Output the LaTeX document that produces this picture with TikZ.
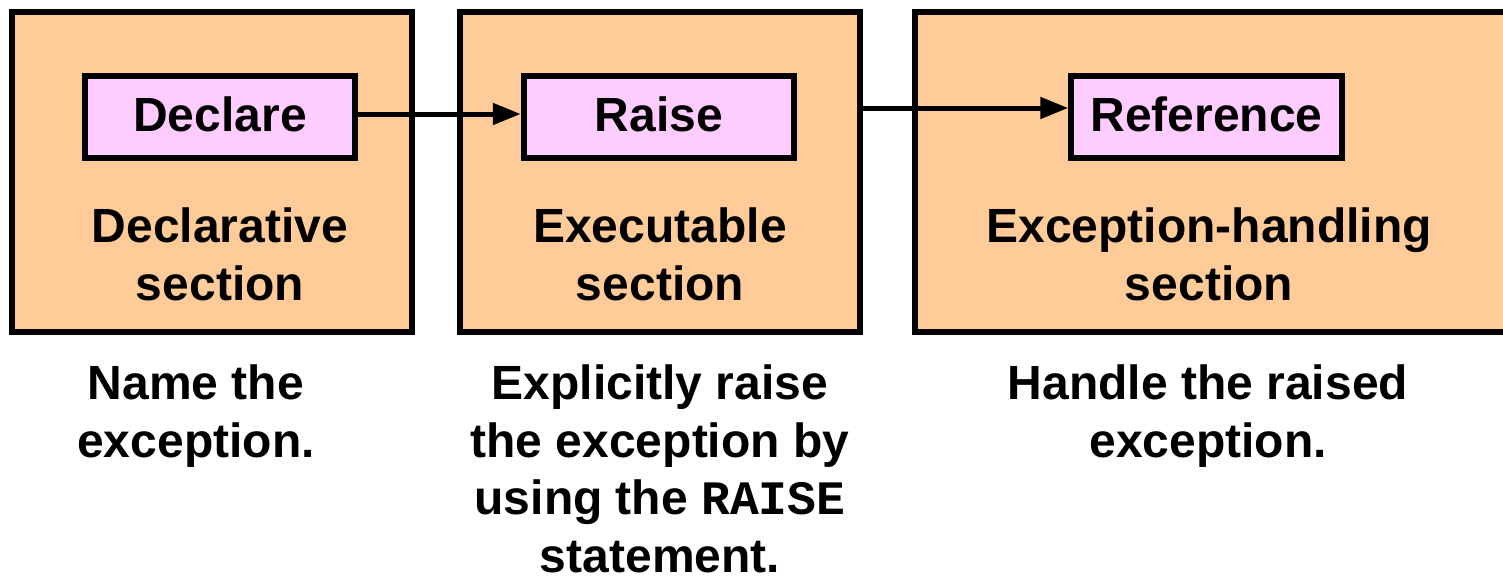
\documentclass[tikz,border=0pt]{standalone}
\usepackage{fontspec}
\setmainfont{Liberation Sans}
\setmonofont{Liberation Mono}
\usetikzlibrary{arrows.meta}
\definecolor{secfill}{HTML}{FFCC99}
\definecolor{keyfill}{HTML}{FFCCFF}
\tikzset{
  section/.style={draw=black, line width=6pt, fill=secfill, rectangle, minimum height=320pt, inner sep=0pt},
  keybox/.style={draw=black, line width=6pt, fill=keyfill, rectangle, minimum width=270.5pt, minimum height=82pt, inner sep=0pt, font=\bfseries\fontsize{48}{57.5}\selectfont, text height=31pt, text depth=3pt},
  lbl/.style={align=center, inner sep=0pt, font=\bfseries\fontsize{48}{57.5}\selectfont, anchor=base},
  arr/.style={line width=5pt, -{Triangle[length=28pt,width=21pt]}}
}
\begin{document}
\begin{tikzpicture}[x=1pt,y=-1pt]
\useasboundingbox (0,0) rectangle (1503,576);
\node[section, minimum width=400pt] (sec1) at (212,172) {};
\node[section, minimum width=400pt] (sec2) at (660,172) {};
\node[section, minimum width=594pt] (sec3) at (1211.5,172) {};
\node[keybox] (declare) at (220,117) {Declare};
\node[keybox] (raise) at (659,117) {Raise};
\node[keybox] (reference) at (1206.5,117) {Reference};
\node[lbl] (t1) at (220,300) {Declarative\\section};
\node[lbl] (t2) at (660,300) {Executable\\section};
\node[lbl] (t3) at (1209,300) {Exception-handling\\section};
\node[lbl] (b1) at (196,457) {Name the\\exception.};
\node[lbl] (b2) at (660,572) {Explicitly raise\\the exception by\\using the \texttt{RAISE}\\statement.};
\node[lbl] (b3) at (1208,457) {Handle the raised\\exception.};
\draw[arr] ([yshift=3pt]declare.east) -- ([yshift=3pt]raise.west);
\draw[arr] ([yshift=9pt]sec2.east |- reference.west) -- ([yshift=9pt]reference.west);
\end{tikzpicture}
\end{document}
